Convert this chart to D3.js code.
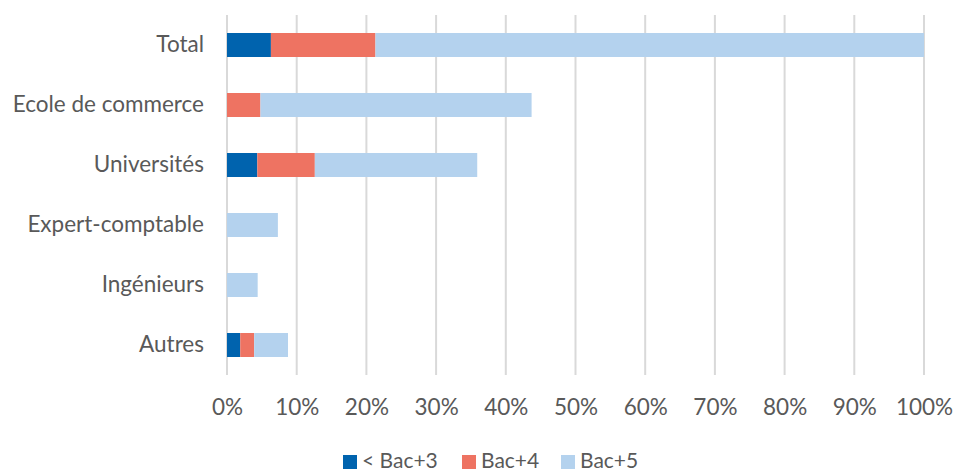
<!DOCTYPE html>
<html><head><meta charset="utf-8">
<script src="https://cdn.jsdelivr.net/npm/d3@7"></script>
<style>body{margin:0;background:#fff;} text{font-family:Lato,"Open Sans",sans-serif;}</style>
</head><body>
<svg id="c" width="954" height="471"></svg>
<script>
const categories = ["Total","Ecole de commerce","Universités","Expert-comptable","Ingénieurs","Autres"];
const seriesNames = ["< Bac+3","Bac+4","Bac+5"];
const bac3 = [6.3, 0, 4.35, 0, 0, 1.9];
const bac4 = [15.0, 4.8, 8.25, 0, 0, 2.0];
const bac5 = [78.7, 38.9, 23.3, 7.3, 4.4, 4.85];
const xTicks = [0,10,20,30,40,50,60,70,80,90,100];
const colors = ["#0063AE","#EE7362","#B4D2EE"];

const svg = d3.select("#c");
const x = d3.scaleLinear().domain([0,100]).range([227,924]);
const y = d3.scaleBand().domain(categories).range([15,375]).paddingInner(0.6).paddingOuter(0.3);
const textColor = "#595959";

// gridlines
svg.append("g").selectAll("line").data(xTicks).join("line")
  .attr("x1", d=>x(d)).attr("x2", d=>x(d)).attr("y1",15).attr("y2",375)
  .attr("stroke","#d9d9d9").attr("stroke-width",2);

// stacked data
const rows = categories.map((c,i)=>({cat:c, "< Bac+3":bac3[i], "Bac+4":bac4[i], "Bac+5":bac5[i]}));
const stack = d3.stack().keys(seriesNames)(rows);
svg.append("g").selectAll("g").data(stack).join("g")
  .attr("fill",(d,i)=>colors[i])
  .selectAll("rect").data(d=>d).join("rect")
  .attr("x", d=>x(d[0])).attr("width", d=>Math.max(0,x(d[1])-x(d[0])))
  .attr("y", d=>y(d.data.cat)).attr("height", y.bandwidth());

// x axis
const xa = svg.append("g").attr("transform","translate(0,375)")
  .call(d3.axisBottom(x).tickValues(xTicks).tickFormat(d=>d+"%").tickSize(0));
xa.select(".domain").remove();
xa.selectAll("text").attr("fill",textColor).attr("font-size",22.5).attr("font-family","Lato")
  .attr("y",40).attr("dy",0);

// y axis
const ya = svg.append("g").attr("transform","translate(227,0)")
  .call(d3.axisLeft(y).tickSize(0).tickPadding(23));
ya.select(".domain").remove();
ya.selectAll("text").attr("fill",textColor).attr("font-size",22.5).attr("font-family","Lato");

// legend
const legX = [343, 462, 561];
const lg = svg.append("g");
seriesNames.forEach((s,i)=>{
  lg.append("rect").attr("x",legX[i]).attr("y",455).attr("width",14).attr("height",14).attr("fill",colors[i]);
  lg.append("text").attr("x",legX[i]+19).attr("y",468).attr("fill",textColor)
    .attr("font-size",21).text(s);
});
</script>
</body></html>
